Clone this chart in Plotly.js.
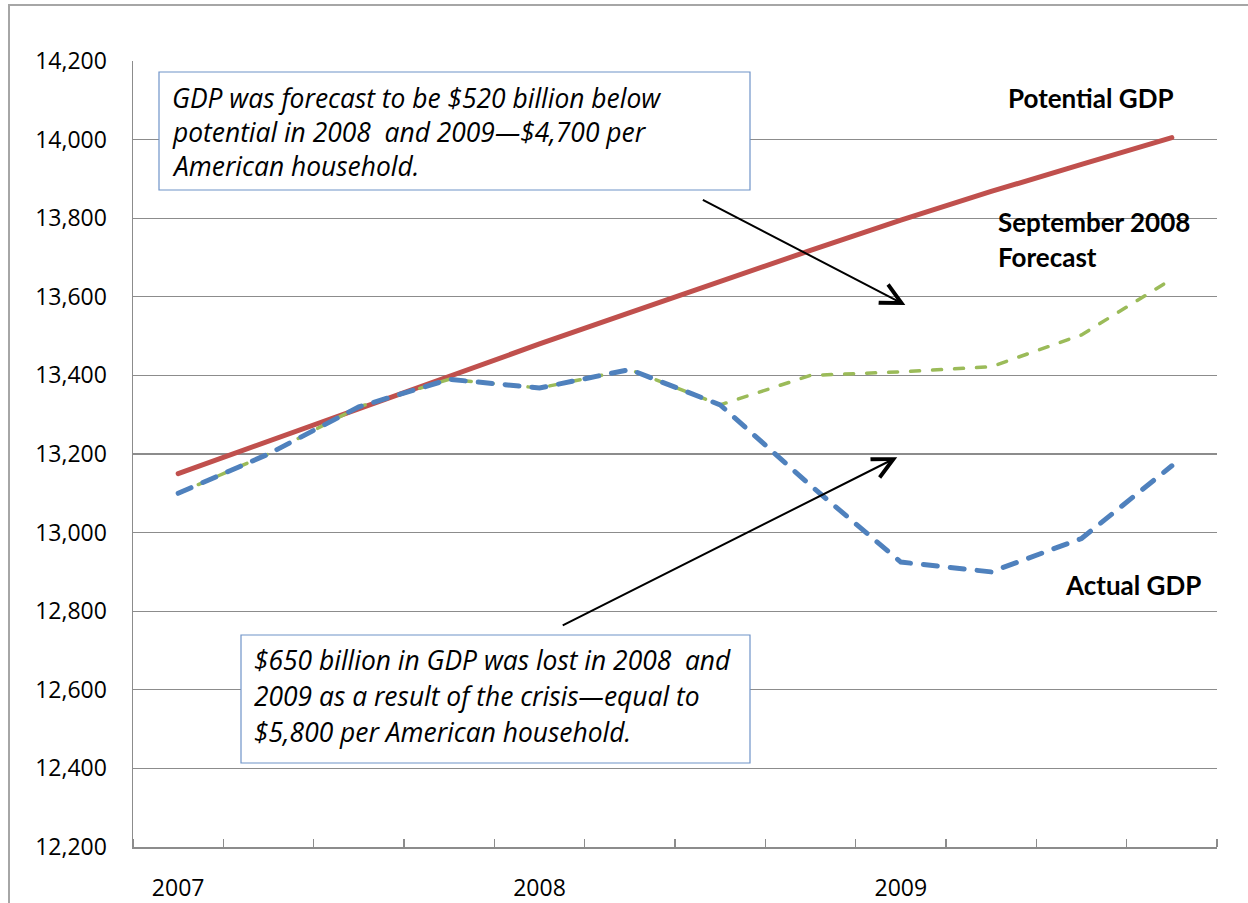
<!DOCTYPE html>
<html>
<head>
<meta charset="utf-8">
<script src="https://cdn.plot.ly/plotly-3.0.1.min.js"></script>
<style>
  html, body { margin: 0; padding: 0; background: #fff; }
  #chart { width: 1248px; height: 903px; }
  .scatterlayer .js-line { stroke-linecap: round; }
</style>
</head>
<body>
<div id="chart"></div>
<script>
// ---- Data (billions of dollars, quarterly) ----
const quarters = ['2007 Q1','2007 Q2','2007 Q3','2007 Q4',
                  '2008 Q1','2008 Q2','2008 Q3','2008 Q4',
                  '2009 Q1','2009 Q2','2009 Q3','2009 Q4'];
const yearTickIndex = [0, 4, 8];
const yearTickLabels = ['2007', '2008', '2009'];
const potentialGDP    = [13150, 13233, 13316, 13400, 13480, 13560, 13640, 13718, 13795, 13868, 13937, 14005];
const actualGDP       = [13100, 13200, 13320, 13390, 13368, 13415, 13325, 13120, 12925, 12900, 12985, 13170];
const forecastSep2008 = [13100, 13200, 13320, 13390, 13368, 13415, 13325, 13400, 13409, 13422, 13503, 13645];
const seriesLabels = ['Potential GDP', 'September 2008', 'Forecast', 'Actual GDP'];
const box1Lines = ['GDP was forecast to be $520 billion below',
                   'potential in 2008 \u00a0and 2009\u2014$4,700 per',
                   'American household.'];
const box2Lines = ['$650 billion in GDP was lost in 2008 \u00a0and',
                   '2009 as a result of the crisis\u2014equal to',
                   '$5,800 per American household.'];

// ---- Layout geometry helpers (pixel -> paper) ----
const W = 1248, H = 903;
const M = { l: 133, r: 31, t: 61, b: 56 };
const PW = W - M.l - M.r, PH = H - M.t - M.b;
const px = x => (x - M.l) / PW;
const py = y => (H - M.b - y) / PH;

const xIdx = quarters.map((q, i) => i);

const traces = [
  { x: xIdx, y: potentialGDP, text: quarters, name: 'Potential GDP', type: 'scatter', mode: 'lines',
    line: { color: '#C0504D', width: 5 }, hoverinfo: 'text+y' },
  { x: xIdx, y: forecastSep2008, text: quarters, name: 'September 2008 Forecast', type: 'scatter', mode: 'lines',
    line: { color: '#9BBB59', width: 3.5, dash: '9px,13px' }, hoverinfo: 'text+y' },
  { x: xIdx, y: actualGDP, text: quarters, name: 'Actual GDP', type: 'scatter', mode: 'lines',
    line: { color: '#4F81BD', width: 5, dash: '14px,13px' }, hoverinfo: 'text+y' }
];

const boxFont = { family: '"Open Sans", Lato, sans-serif', size: 26.4, color: '#000', style: 'italic' };
const labelFont = { family: 'Lato, "Open Sans", sans-serif', size: 26, color: '#000', weight: 'bold' };
const tickFont = { family: '"Open Sans", "DejaVu Sans", sans-serif', size: 23, color: '#000' };

const annotations = [];
box1Lines.forEach((t, i) => annotations.push({
  text: t, xref: 'paper', yref: 'paper', x: px(170), y: py(98 + i * 34),
  xanchor: 'left', yanchor: 'middle', showarrow: false, font: boxFont
}));
box2Lines.forEach((t, i) => annotations.push({
  text: t, xref: 'paper', yref: 'paper', x: px(252), y: py(660 + i * 36),
  xanchor: 'left', yanchor: 'middle', showarrow: false, font: boxFont
}));
const labelPos = [[1006, 98], [996, 222], [996, 257], [1063, 585]];
seriesLabels.forEach((t, i) => annotations.push({
  text: t, xref: 'paper', yref: 'paper', x: px(labelPos[i][0]), y: py(labelPos[i][1]),
  xanchor: 'left', yanchor: 'middle', showarrow: false, font: labelFont
}));
// arrows
annotations.push({ text: '', xref: 'x', yref: 'y', x: 8.05, y: 13579, ax: -204, ay: -106,
  showarrow: true, arrowhead: 5, arrowsize: 2.0, arrowwidth: 2, arrowcolor: '#000' });
annotations.push({ text: '', xref: 'x', yref: 'y', x: 7.96, y: 13192, ax: -336, ay: 169,
  showarrow: true, arrowhead: 5, arrowsize: 2.0, arrowwidth: 2, arrowcolor: '#000' });

const shapes = [
  // outer chart frame
  { type: 'rect', xref: 'paper', yref: 'paper', x0: px(9), x1: px(1290), y0: py(950), y1: py(5),
    line: { color: '#A6A6A6', width: 2 }, fillcolor: 'rgba(0,0,0,0)', layer: 'below' },
  // text boxes
  { type: 'rect', xref: 'paper', yref: 'paper', x0: px(159), x1: px(750), y0: py(190), y1: py(72),
    line: { color: '#6F93C8', width: 1.2 }, fillcolor: '#ffffff', layer: 'above' },
  { type: 'rect', xref: 'paper', yref: 'paper', x0: px(241), x1: px(750), y0: py(763), y1: py(635),
    line: { color: '#6F93C8', width: 1.2 }, fillcolor: '#ffffff', layer: 'above' }
];

const layout = {
  width: W, height: H,
  margin: M,
  paper_bgcolor: '#ffffff', plot_bgcolor: '#ffffff',
  showlegend: false,
  font: tickFont,
  xaxis: {
    range: [-0.5, 11.5], fixedrange: true,
    tickmode: 'array', tickvals: yearTickIndex, ticktext: yearTickLabels,
    ticks: '', showgrid: false, zeroline: false,
    showline: true, linecolor: '#8C8C8C', linewidth: 1.5,
    ticklabelstandoff: 20,
    tickfont: tickFont,
    minor: { tickmode: 'linear', tick0: -0.5, dtick: 1, ticks: 'inside', ticklen: 8,
             tickcolor: '#8C8C8C', tickwidth: 1.5, showgrid: false }
  },
  yaxis: {
    range: [12200, 14200], fixedrange: true,
    tickmode: 'linear', tick0: 12200, dtick: 200, tickformat: ',d',
    ticks: '', showgrid: true, gridcolor: '#8C8C8C', gridwidth: 1.2,
    zeroline: false, showline: true, linecolor: '#8C8C8C', linewidth: 1.5,
    ticklabelstandoff: 20,
    tickfont: tickFont
  },
  annotations: annotations,
  shapes: shapes
};

Plotly.newPlot('chart', traces, layout, { displayModeBar: false, staticPlot: true });
</script>
</body>
</html>
